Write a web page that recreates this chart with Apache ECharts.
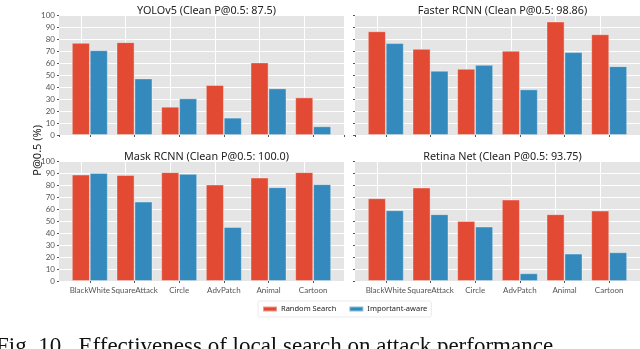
<!DOCTYPE html>
<html>
<head>
<meta charset="utf-8">
<script src="https://cdn.jsdelivr.net/npm/echarts@6/dist/echarts.min.js"></script>
<style>
  html, body { margin: 0; padding: 0; background: #fff; }
  #chart { width: 640px; height: 349px; }
</style>
</head>
<body>
<div id="chart"></div>
<script>
const categories = ["BlackWhite", "SquareAttack", "Circle", "AdvPatch", "Animal", "Cartoon"];
const seriesNames = ["Random Search", "Important-aware"];
const titles = [
    "YOLOv5 (Clean P@0.5: 87.5)",
    "Faster RCNN (Clean P@0.5: 98.86)",
    "Mask RCNN (Clean P@0.5: 100.0)",
    "Retina Net (Clean P@0.5: 93.75)"
];
const yoloRandom = [76.7, 77.3, 23.5, 41.6, 60.4, 31.3];
const yoloAware = [70.6, 47.1, 30.5, 14.4, 38.8, 7.2];
const fasterRandom = [86.4, 71.7, 55.1, 70.1, 94.5, 83.9];
const fasterAware = [76.5, 53.5, 58.4, 38.0, 69.0, 57.3];
const maskRandom = [88.6, 88.3, 90.6, 80.3, 86.1, 90.6];
const maskAware = [90.0, 66.1, 89.2, 45.0, 78.1, 80.6];
const retinaRandom = [68.9, 77.8, 50.0, 67.8, 55.6, 58.6];
const retinaAware = [58.9, 55.6, 45.3, 6.4, 22.8, 23.9];

const panelData = [
    [yoloRandom, yoloAware],
    [fasterRandom, fasterAware],
    [maskRandom, maskAware],
    [retinaRandom, retinaAware]
];

const colors = ['#E24A33', '#348ABD'];
const font = '"Noto Sans", "DejaVu Sans", sans-serif';
const tickFont = 'Lato, "Noto Sans", sans-serif';
const catPos = categories.map((c, k) => k);

// panel boxes (left, top) in px, same size for all
const boxes = [
    { left: 59, top: 15 },
    { left: 355, top: 15 },
    { left: 59, top: 161 },
    { left: 355, top: 161 }
];
const boxW = 285, boxH = 120;

const grids = [], xAxes = [], yAxes = [], series = [], titleList = [];

boxes.forEach((b, i) => {
    grids.push({
        left: b.left, top: b.top, width: boxW, height: boxH,
        show: true, backgroundColor: '#E5E5E5', borderWidth: 0
    });
    titleList.push({
        text: titles[i],
        left: b.left + boxW / 2, top: b.top - 15,
        textAlign: 'center',
        textStyle: { fontFamily: font, fontSize: 10.8, fontWeight: 'normal', color: '#222' }
    });
    const bottomRow = i >= 2;
    const leftCol = i % 2 === 0;
    xAxes.push({
        type: 'value', gridIndex: i,
        min: -0.69, max: 5.69, minInterval: 1, maxInterval: 1,
        axisLine: { show: false, onZero: false },
        axisTick: { show: true, length: 2, lineStyle: { color: '#555' } },
        axisLabel: {
            show: bottomRow, fontFamily: tickFont, fontSize: 8, color: '#555', margin: 5,
            showMinLabel: false, showMaxLabel: false, hideOverlap: false,
            formatter: v => (Math.abs(v - Math.round(v)) < 1e-6 ? categories[Math.round(v)] || '' : '')
        },
        splitLine: { show: false }
    });
    yAxes.push({
        type: 'value', gridIndex: i, min: 0, max: 100, interval: 10,
        axisLine: { show: false, onZero: false },
        axisTick: { show: true, length: 2, lineStyle: { color: '#555' } },
        axisLabel: { show: leftCol, fontFamily: tickFont, fontSize: 8, color: '#555', margin: 4 },
        splitLine: { show: true, lineStyle: { color: '#fff', width: 1 } }
    });
    panelData[i].forEach((vals, s) => {
        const ser = {
            type: 'bar', name: seriesNames[s],
            xAxisIndex: i, yAxisIndex: i,
            data: vals.map((v, k) => [catPos[k], v]),
            barWidth: 17.9, barGap: '0%',
            itemStyle: { color: colors[s], borderColor: 'rgba(255,255,255,0.45)', borderWidth: 0.8 },
            silent: true
        };
        if (s === 0) {
            // white vertical grid lines at category centres, behind the bars
            ser.markLine = {
                silent: true, symbol: 'none', z: 1, animation: false,
                label: { show: false },
                lineStyle: { color: '#fff', width: 1, type: 'solid' },
                data: catPos.map(k => ({ xAxis: k }))
            };
        }
        series.push(ser);
    });
});

const option = {
    animation: false,
    backgroundColor: '#fff',
    title: titleList,
    grid: grids,
    xAxis: xAxes,
    yAxis: yAxes,
    series: series,
    legend: {
        data: seriesNames,
        left: 258, top: 301,
        itemWidth: 14, itemHeight: 5, itemGap: 12,
        padding: [4, 4, 4, 4],
        borderColor: '#ddd', borderWidth: 0.6, borderRadius: 2,
        backgroundColor: '#fff',
        icon: 'rect',
        textStyle: { fontFamily: font, fontSize: 7.5, color: '#222', padding: [0, 0, 0, -1] }
    },
    graphic: [
        {
            type: 'text', left: 32, top: 125, rotation: Math.PI / 2,
            style: { text: 'P@0.5 (%)', font: '11px ' + font, fill: '#222' }
        },
        {
            type: 'text', left: -4, top: 335,
            style: { text: 'Fig. 10.  Effectiveness of local search on attack performance.', font: '23px "Liberation Serif", "DejaVu Serif", serif', fill: '#111' }
        }
    ]
};

const myChart = echarts.init(document.getElementById('chart'), null, { renderer: 'canvas' });
myChart.setOption(option);
</script>
</body>
</html>
